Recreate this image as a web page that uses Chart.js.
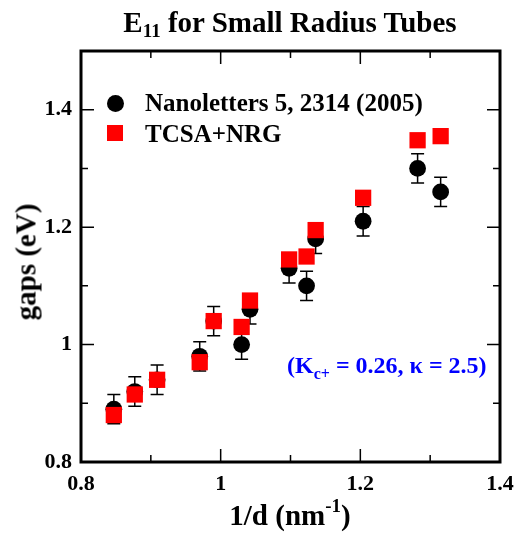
<!DOCTYPE html>
<html lang="en">
<head>
    <meta charset="UTF-8">
    <title>E11 for Small Radius Tubes</title>
    <script src="https://cdn.jsdelivr.net/npm/chart.js"></script>
    <style>
        body { margin: 0; background: #fff; }
        #wrap { position: relative; width: 515px; height: 535px; font-family: "Liberation Serif", "Times New Roman", serif; font-weight: bold; color: #000; }
        #wrap canvas { position: absolute; left: 0; top: 0; }
        .lbl { position: absolute; white-space: nowrap; line-height: 1; }
        .sub { position: relative; }
        #title { left: 290px; top: 8px; font-size: 29px; transform: translateX(-50%); }
        #title .sub { font-size: 19px; top: 5px; }
        #xtitle { left: 290px; top: 501px; font-size: 29px; transform: translateX(-50%); }
        #xtitle .sup { font-size: 19px; position: relative; top: -13px; }
        #ytitle { left: 26px; top: 262px; font-size: 29px; transform: translate(-50%, -50%) rotate(-90deg); }
        .legend-row { position: absolute; left: 145px; font-size: 25px; line-height: 1; white-space: nowrap; }
        .mark { position: absolute; }
        #annot { left: 287px; top: 353px; font-size: 24px; color: #0000ff; }
        #annot .sub { font-size: 16px; top: 6px; }
    </style>
</head>
<body>
<div id="wrap">
    <canvas id="gapChart" width="515" height="535"></canvas>

    <!-- text labels -->
    <div class="lbl" id="title">E<span class="sub">11</span> for Small Radius Tubes</div>
    <div class="lbl" id="ytitle">gaps (eV)</div>
    <div class="lbl" id="xtitle">1/d (nm<span class="sup">-1</span>)</div>

    <!-- legend -->
    <div class="mark" style="left:106.5px; top:95px; width:17px; height:17px; border-radius:50%; background:#000;"></div>
    <div class="legend-row" style="top:90px;">Nanoletters 5, 2314 (2005)</div>
    <div class="mark" style="left:107px; top:125px; width:16px; height:16px; background:#ff0000;"></div>
    <div class="legend-row" style="top:121px;">TCSA+NRG</div>

    <div class="lbl" id="annot">(K<span class="sub">c+</span> = 0.26, &kappa; = 2.5)</div>
</div>

<script>
    // 1/d values (nm^-1)
    const invD = [0.847, 0.877, 0.909, 0.970, 0.990, 1.030, 1.042, 1.098, 1.123, 1.136, 1.204, 1.282, 1.315];
    // experimental gaps, Nanoletters 5, 2314 (2005)
    const gapsExp = [0.89, 0.92, 0.94, 0.98, 1.04, 1.00, 1.06, 1.13, 1.10, 1.18, 1.21, 1.30, 1.26];
    const gapsErr = [0.025, 0.025, 0.025, 0.025, 0.025, 0.025, 0.025, 0.025, 0.025, 0.025, 0.025, 0.025, 0.025];
    // TCSA+NRG results
    const gapsTcsa = [0.88, 0.915, 0.94, 0.97, 1.04, 1.03, 1.075, 1.145, 1.15, 1.195, 1.25, 1.348, 1.355];

    const xMajor = [0.8, 1, 1.2, 1.4];
    const yMajor = [0.8, 1, 1.2, 1.4];

    const tickFont = { family: '"Liberation Serif", "Times New Roman", serif', size: 22, weight: 'bold' };

    function isMajor(v, list) {
        return list.some(m => Math.abs(m - v) < 1e-6);
    }
    function fmt(v) {
        const r = Math.round(v * 10) / 10;
        return r === 1 ? '1' : r.toFixed(1);
    }

    // error bars behind the circles
    const errorBars = {
        id: 'errorBars',
        beforeDatasetsDraw(chart) {
            const ctx = chart.ctx, x = chart.scales.x, y = chart.scales.y;
            ctx.save();
            ctx.strokeStyle = '#000';
            ctx.lineWidth = 1.5;
            invD.forEach((d, i) => {
                const px = x.getPixelForValue(d);
                const top = y.getPixelForValue(gapsExp[i] + gapsErr[i]);
                const bot = y.getPixelForValue(gapsExp[i] - gapsErr[i]);
                ctx.beginPath();
                ctx.moveTo(px, top); ctx.lineTo(px, bot);
                ctx.moveTo(px - 6.5, top); ctx.lineTo(px + 6.5, top);
                ctx.moveTo(px - 6.5, bot); ctx.lineTo(px + 6.5, bot);
                ctx.stroke();
            });
            ctx.restore();
        }
    };

    // heavy frame with inward ticks on all four sides
    const frame = {
        id: 'frame',
        afterDraw(chart) {
            const ctx = chart.ctx, a = chart.chartArea, x = chart.scales.x, y = chart.scales.y;
            ctx.save();
            ctx.strokeStyle = '#000';
            ctx.lineWidth = 1.5;
            ctx.beginPath();
            x.ticks.forEach(t => {
                const px = x.getPixelForValue(t.value);
                const len = isMajor(t.value, xMajor) ? 13 : 7;
                ctx.moveTo(px, a.bottom); ctx.lineTo(px, a.bottom - len);
                ctx.moveTo(px, a.top); ctx.lineTo(px, a.top + len);
            });
            y.ticks.forEach(t => {
                const py = y.getPixelForValue(t.value);
                const len = isMajor(t.value, yMajor) ? 13 : 7;
                ctx.moveTo(a.left, py); ctx.lineTo(a.left + len, py);
                ctx.moveTo(a.right, py); ctx.lineTo(a.right - len, py);
            });
            ctx.stroke();
            ctx.lineWidth = 3;
            ctx.strokeRect(a.left, a.top, a.right - a.left, a.bottom - a.top);
            ctx.restore();
        }
    };

    function drawChart() {
        const ctx = document.getElementById('gapChart').getContext('2d');
        new Chart(ctx, {
            type: 'scatter',
            data: {
                datasets: [
                    {
                        label: 'TCSA+NRG',
                        data: invD.map((d, i) => ({ x: d, y: gapsTcsa[i] })),
                        pointStyle: 'rect',
                        pointRadius: 11.5,
                        pointHoverRadius: 11.5,
                        backgroundColor: '#ff0000',
                        borderWidth: 0
                    },
                    {
                        label: 'Nanoletters 5, 2314 (2005)',
                        data: invD.map((d, i) => ({ x: d, y: gapsExp[i] })),
                        pointStyle: 'circle',
                        pointRadius: 8.4,
                        pointHoverRadius: 8.4,
                        backgroundColor: '#000',
                        borderWidth: 0
                    }
                ]
            },
            options: {
                responsive: false,
                animation: false,
                devicePixelRatio: 1,
                events: [],
                layout: { padding: { top: 51, right: 15, left: 0, bottom: 0 } },
                plugins: { legend: { display: false }, tooltip: { enabled: false } },
                scales: {
                    x: {
                        type: 'linear',
                        min: 0.8, max: 1.4,
                        grid: { display: false, drawTicks: false },
                        border: { display: false },
                        ticks: {
                            stepSize: 0.1,
                            color: '#000',
                            font: tickFont,
                            padding: 9,
                            maxRotation: 0,
                            autoSkip: false,
                            callback: v => isMajor(v, xMajor) ? fmt(v) : ''
                        },
                        afterFit: s => { s.height = 73; s.paddingLeft = 0; s.paddingRight = 0; }
                    },
                    y: {
                        type: 'linear',
                        min: 0.8, max: 1.5,
                        grid: { display: false, drawTicks: false },
                        border: { display: false },
                        ticks: {
                            stepSize: 0.1,
                            color: '#000',
                            font: tickFont,
                            padding: 9,
                            autoSkip: false,
                            callback: v => isMajor(v, yMajor) ? fmt(v) : ''
                        },
                        afterFit: s => { s.width = 81; s.paddingTop = 0; s.paddingBottom = 0; }
                    }
                }
            },
            plugins: [errorBars, frame]
        });
    }

    // make sure the serif face is ready before the canvas draws its tick labels
    document.fonts.load('bold 22px "Liberation Serif"').then(drawChart, drawChart);
</script>
</body>
</html>
